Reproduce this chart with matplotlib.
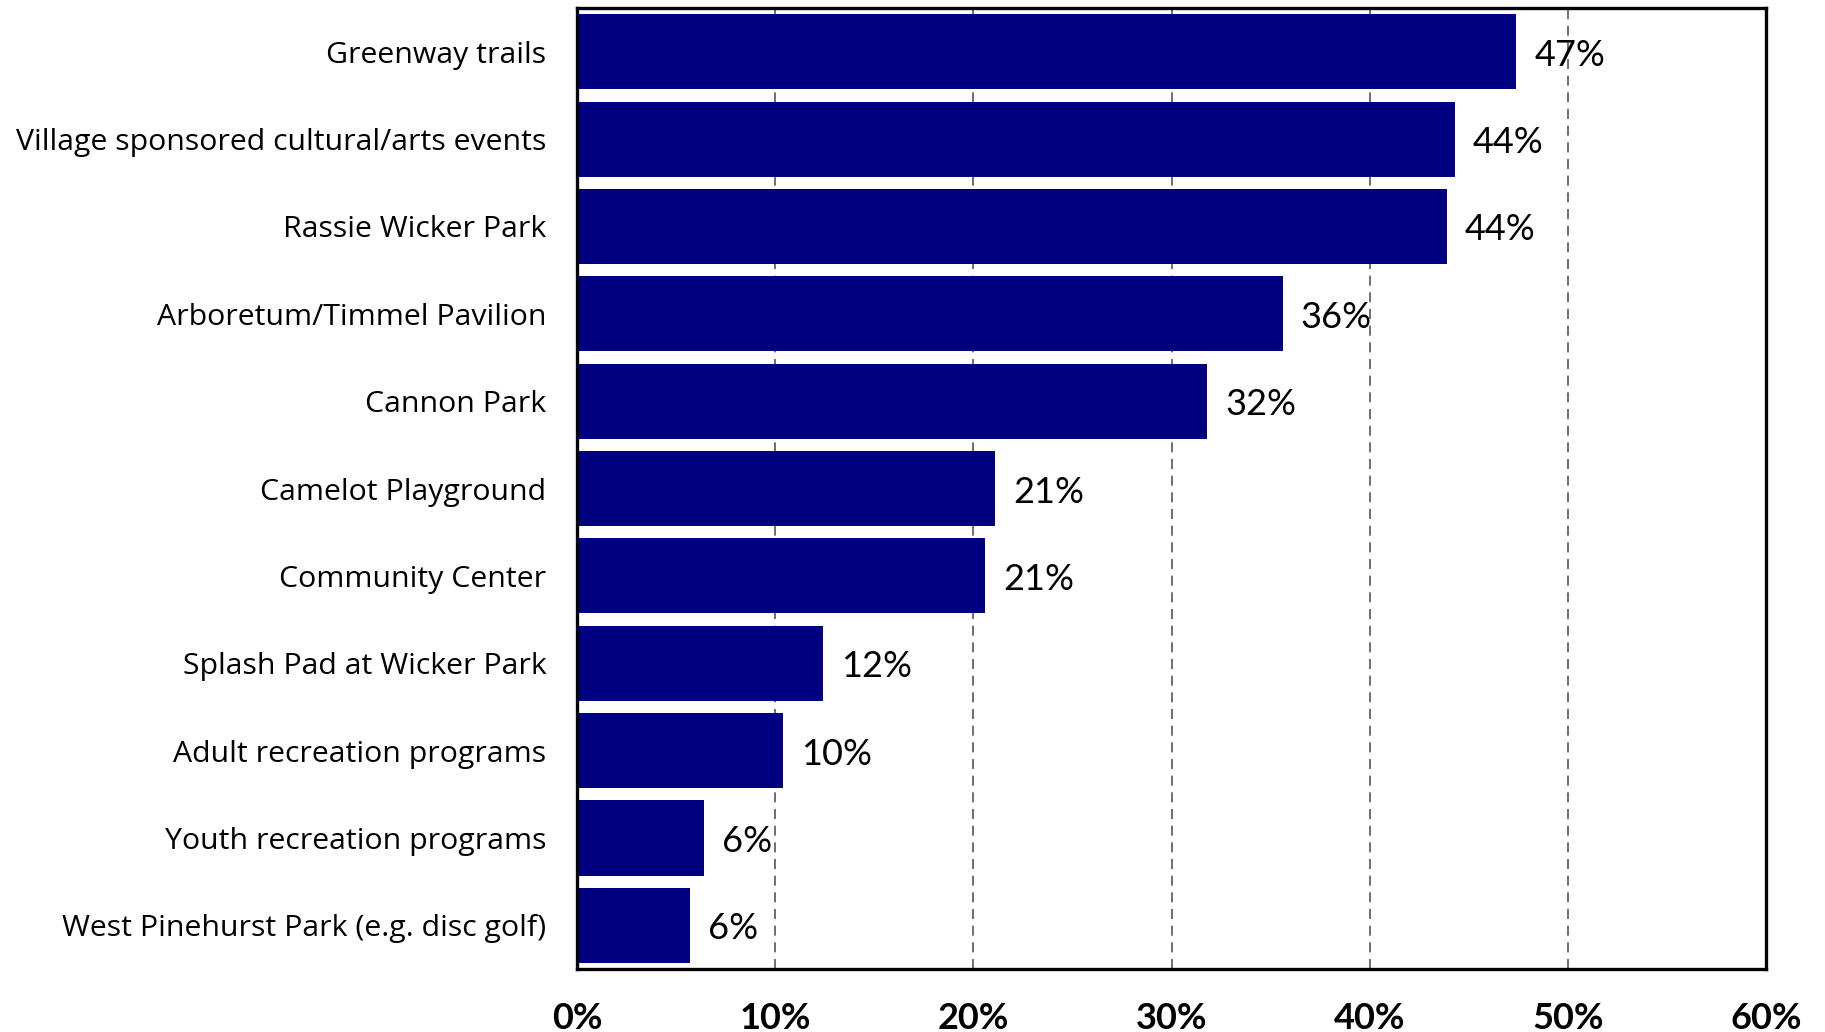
import matplotlib.pyplot as plt
from matplotlib.ticker import FuncFormatter

plt.rcParams["font.family"] = ["Lato", "DejaVu Sans"]

categories = [
    "Greenway trails",
    "Village sponsored cultural/arts events",
    "Rassie Wicker Park",
    "Arboretum/Timmel Pavilion",
    "Cannon Park",
    "Camelot Playground",
    "Community Center",
    "Splash Pad at Wicker Park",
    "Adult recreation programs",
    "Youth recreation programs",
    "West Pinehurst Park (e.g. disc golf)",
]
values = [47.4, 44.3, 43.9, 35.6, 31.8, 21.1, 20.6, 12.4, 10.4, 6.4, 5.7]
x_ticks = [0, 10, 20, 30, 40, 50, 60]

BAR_COLOR = "#000080"


def main():
    fig = plt.figure(figsize=(18.25, 10.32), dpi=100)
    ax = fig.add_axes([0.3162, 0.061, 0.6515, 0.9312])

    pos = list(range(len(categories)))
    ax.barh(pos, values, height=0.86, color=BAR_COLOR, zorder=2)

    # value labels just past the end of each bar
    for p, v in zip(pos, values):
        ax.text(v + 0.9, p + 0.04, f"{v:.0f}%", va="center", ha="left",
                fontsize=26, color="black", zorder=3)

    ax.set_yticks(pos)
    ax.set_yticklabels(categories, fontsize=21.8, family=["Open Sans", "DejaVu Sans"])
    ax.set_ylim(len(categories) - 0.5, -0.5)

    ax.set_xlim(0, 60)
    ax.set_xticks(x_ticks)
    ax.xaxis.set_major_formatter(FuncFormatter(lambda x, _: f"{x:.0f}%"))
    for lbl in ax.get_xticklabels():
        lbl.set_fontweight("bold")
        lbl.set_fontsize(26)

    ax.tick_params(axis="y", length=0, pad=22)
    ax.tick_params(axis="x", length=0, pad=24)

    ax.grid(axis="x", linestyle=(0, (6, 4)), color="#555555", linewidth=1.2, zorder=1)
    for s in ax.spines.values():
        s.set_linewidth(2.4)
        s.set_color("black")

    fig.savefig("out.png", dpi=100)


if __name__ == "__main__":
    main()
